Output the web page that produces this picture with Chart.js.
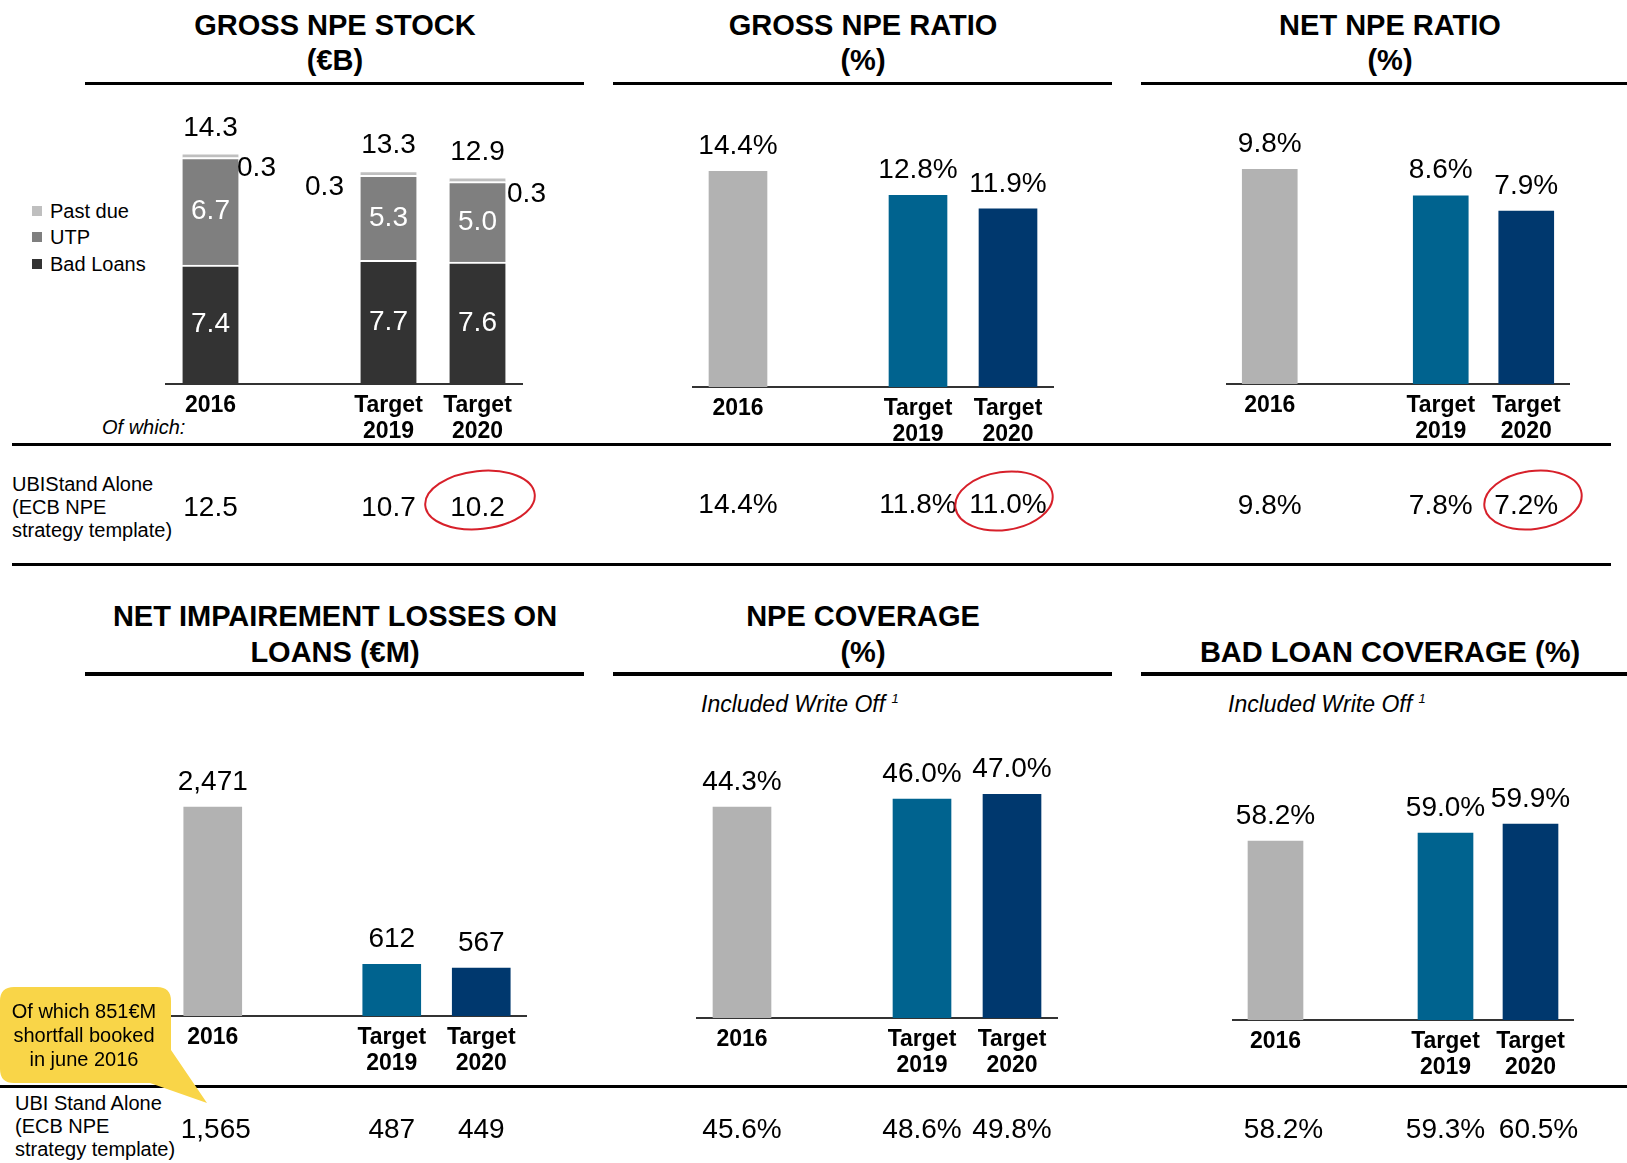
<!DOCTYPE html>
<html>
<head>
<meta charset="utf-8">
<script src="https://cdn.jsdelivr.net/npm/chart.js@4.4.1/dist/chart.umd.min.js"></script>
<style>
  body { margin: 0; background: #fff; font-family: "Liberation Sans", Arial, sans-serif; color: #000; }
  #page { position: relative; width: 1627px; height: 1163px; overflow: hidden; }
  .title { position: absolute; font-weight: bold; font-size: 29px; line-height: 35px; text-align: center; white-space: nowrap; }
  .rule { position: absolute; background: #000; }
  .txt { position: absolute; font-size: 20px; line-height: 23px; white-space: nowrap; }
  .sw { position: absolute; width: 10px; height: 10px; }
  canvas { position: absolute; }
</style>
</head>
<body>
<div id="page">
  <div class="title" style="left:85px;width:500px;top:8px;">GROSS NPE STOCK<br>(€B)</div>
  <div class="title" style="left:613px;width:500px;top:8px;">GROSS NPE RATIO<br>(%)</div>
  <div class="title" style="left:1141px;width:498px;top:8px;">NET NPE RATIO<br>(%)</div>
  <div class="title" style="left:85px;width:500px;top:598px;line-height:36px;">NET IMPAIREMENT LOSSES ON<br>LOANS (€M)</div>
  <div class="title" style="left:613px;width:500px;top:598px;line-height:36px;">NPE COVERAGE<br>(%)</div>
  <div class="title" style="left:1141px;width:498px;top:634px;line-height:36px;">BAD LOAN COVERAGE (%)</div>

  <div class="rule" style="left:85px;top:82px;width:499px;height:3px;"></div>
  <div class="rule" style="left:613px;top:82px;width:499px;height:3px;"></div>
  <div class="rule" style="left:1141px;top:82px;width:486px;height:3px;"></div>
  <div class="rule" style="left:85px;top:672px;width:499px;height:4px;"></div>
  <div class="rule" style="left:613px;top:672px;width:499px;height:4px;"></div>
  <div class="rule" style="left:1141px;top:672px;width:486px;height:4px;"></div>

  <div class="rule" style="left:12px;top:443px;width:1599px;height:3px;"></div>
  <div class="rule" style="left:12px;top:563px;width:1599px;height:3px;"></div>
  <div class="rule" style="left:0px;top:1085px;width:1627px;height:3px;"></div>

  <div class="sw" style="left:32px;top:206px;background:#BFBFBF;"></div>
  <div class="sw" style="left:32px;top:232px;background:#7F7F7F;"></div>
  <div class="sw" style="left:32px;top:259px;background:#333333;"></div>
  <div class="txt" style="left:50px;top:199.5px;">Past due</div>
  <div class="txt" style="left:50px;top:225.5px;">UTP</div>
  <div class="txt" style="left:50px;top:252.5px;">Bad Loans</div>

  <div class="txt" style="left:102px;top:415.5px;font-style:italic;">Of which:</div>
  <div class="txt" style="left:12px;top:472.5px;">UBIStand Alone<br>(ECB NPE<br>strategy template)</div>
  <div class="txt" style="left:15px;top:1091.5px;">UBI Stand Alone<br>(ECB NPE<br>strategy template)</div>

  <div class="txt" style="left:701px;top:685px;font-size:23px;line-height:28px;font-style:italic;">Included Write Off <sup style="font-size:13px;">1</sup></div>
  <div class="txt" style="left:1228px;top:685px;font-size:23px;line-height:28px;font-style:italic;">Included Write Off <sup style="font-size:13px;">1</sup></div>

  <canvas id="c1"></canvas>
  <canvas id="c2"></canvas>
  <canvas id="c3"></canvas>
  <canvas id="c4"></canvas>
  <canvas id="c5"></canvas>
  <canvas id="c6"></canvas>

  <svg style="position:absolute;left:0;top:0;z-index:5;" width="1627" height="1163">
    <path d="M14 987 H157 Q171 987 171 1001 V1050 L207 1103 L150 1083 H14 Q0 1083 0 1069 V1001 Q0 987 14 987 Z" fill="#F9D548"/>
    <ellipse cx="480" cy="500" rx="55" ry="29" transform="rotate(-6 480 500)" fill="none" stroke="#D7202A" stroke-width="2"/>
    <ellipse cx="1004" cy="501" rx="49" ry="29" transform="rotate(-8 1004 501)" fill="none" stroke="#D7202A" stroke-width="2"/>
    <ellipse cx="1533" cy="500" rx="49" ry="29" transform="rotate(-8 1533 500)" fill="none" stroke="#D7202A" stroke-width="2"/>
  </svg>
  <div class="txt" style="left:0;width:168px;top:999px;line-height:24px;text-align:center;z-index:6;">Of which 851€M<br>shortfall booked<br>in june 2016</div>
</div>

<script>
const categories = ['2016', '', ['Target', '2019'], ['Target', '2020']];

// gross NPE stock (€B), stacked
const badLoans = [7.4, null, 7.7, 7.6];
const utp = [6.7, null, 5.3, 5.0];
const pastDue = [0.3, null, 0.3, 0.3];
const grossStockTotal = [14.3, null, 13.3, 12.9];
const grossStockStandalone = [12.5, null, 10.7, 10.2];

const grossRatio = [14.4, null, 12.8, 11.9];
const grossRatioStandalone = [14.4, null, 11.8, 11.0];

const netRatio = [9.8, null, 8.6, 7.9];
const netRatioStandalone = [9.8, null, 7.8, 7.2];

const impairment = [2471, null, 612, 567];
const impairmentStandalone = [1565, null, 487, 449];

const npeCoverage = [44.3, null, 46.0, 47.0];
const npeCoverageStandalone = [45.6, null, 48.6, 49.8];

const badLoanCoverage = [58.2, null, 59.0, 59.9];
const badLoanCoverageStandalone = [58.2, null, 59.3, 60.5];

const barColors = ['#B2B2B2', null, '#00638F', '#00386E'];

Chart.defaults.font.family = '"Liberation Sans", Arial, sans-serif';

const one = v => v.toFixed(1);
const pct = v => v.toFixed(1) + '%';
const thousands = v => v.toLocaleString('en-US');

// value labels: inside segments, beside bars, above bars and the stand-alone row
const barText = {
  id: 'barText',
  afterDatasetsDraw(chart, args, opts) {
    const ctx = chart.ctx;
    ctx.save();
    ctx.font = '28px "Liberation Sans", Arial, sans-serif';
    ctx.textAlign = 'center';
    ctx.textBaseline = 'middle';
    const metas = chart.data.datasets.map((ds, di) => chart.getDatasetMeta(di));
    chart.data.datasets.forEach((ds, di) => {
      metas[di].data.forEach((bar, i) => {
        const v = ds.data[i];
        if (v === null) return;
        if (opts.inside && opts.inside.includes(di)) {
          ctx.fillStyle = '#fff';
          ctx.fillText(opts.format(v), bar.x, (bar.y + bar.base) / 2);
        }
        if (opts.side && opts.side.dataset === di) {
          ctx.fillStyle = '#000';
          ctx.fillText(opts.format(v), bar.x + opts.side.dx[i], bar.y + opts.side.dy[i]);
        }
      });
    });
    const topMeta = metas[metas.length - 1];
    ctx.fillStyle = '#000';
    opts.top.forEach((v, i) => {
      if (v === null) return;
      const bar = topMeta.data[i];
      ctx.fillText(opts.format(v), bar.x, bar.y - 25);
    });
    opts.below.forEach((v, i) => {
      if (v === null) return;
      const x = chart.scales.x.getPixelForValue(i) + (opts.belowDx ? opts.belowDx[i] : 0);
      ctx.fillText(opts.format(v), x, chart.chartArea.bottom + opts.belowDy);
    });
    ctx.restore();
  }
};

function buildChart(id, box, datasets, yMin, yMax, labelOpts) {
  const padX = 70, axisH = 70, padBottom = 72;
  const canvas = document.getElementById(id);
  canvas.width = box.right - box.left + 2 * padX;
  canvas.height = box.axisY - box.top + axisH + padBottom;
  canvas.style.left = (box.left - padX) + 'px';
  canvas.style.top = box.top + 'px';
  return new Chart(canvas, {
    type: 'bar',
    data: { labels: categories, datasets: datasets },
    options: {
      responsive: false,
      animation: false,
      layout: { padding: { left: padX, right: padX, top: 0, bottom: padBottom } },
      plugins: {
        legend: { display: false },
        tooltip: { enabled: false },
        barText: labelOpts
      },
      scales: {
        x: {
          stacked: true,
          grid: { display: false, drawTicks: false },
          border: { display: true, color: '#333', width: 2 },
          ticks: {
            color: '#000',
            padding: 9,
            maxRotation: 0,
            autoSkip: false,
            font: { size: 23, weight: 'bold', lineHeight: 1.13 }
          },
          afterFit: scale => { scale.height = axisH; }
        },
        y: { display: false, stacked: true, min: yMin, max: yMax }
      }
    },
    plugins: [barText]
  });
}

function single(values, thickness) {
  return [{ data: values, backgroundColor: barColors, borderWidth: 0, barThickness: thickness }];
}

const segBorder = { top: 2, right: 0, bottom: 0, left: 0 };

buildChart('c1', { left: 166, right: 522, axisY: 384, top: 95 }, [
  { label: 'Bad Loans', data: badLoans, backgroundColor: '#333333', borderColor: '#fff', borderWidth: segBorder, borderSkipped: false, barThickness: 56 },
  { label: 'UTP', data: utp, backgroundColor: '#7F7F7F', borderColor: '#fff', borderWidth: segBorder, borderSkipped: false, barThickness: 56 },
  { label: 'Past due', data: pastDue, backgroundColor: '#BFBFBF', borderColor: '#fff', borderWidth: segBorder, borderSkipped: false, barThickness: 56 }
], 0, 18.0, {
  format: one, inside: [0, 1],
  side: { dataset: 2, dx: [46, 0, -64, 49], dy: [15, 0, 17, 17] },
  top: grossStockTotal, below: grossStockStandalone, belowDy: 124
});

buildChart('c2', { left: 693, right: 1053, axisY: 387, top: 95 }, single(grossRatio, 58), 0, 19.5, {
  format: pct, top: grossRatio, below: grossRatioStandalone, belowDy: 118
});

buildChart('c3', { left: 1227, right: 1569, axisY: 384, top: 95 }, single(netRatio, 55), 0, 13.2, {
  format: pct, top: netRatio, below: netRatioStandalone, belowDy: 122
});

buildChart('c4', { left: 168, right: 526, axisY: 1016, top: 700 }, single(impairment, 58), 0, 3736, {
  format: thousands, top: impairment, below: impairmentStandalone, belowDy: 114, belowDx: [3, 0, 0, 0]
});

buildChart('c5', { left: 697, right: 1057, axisY: 1018, top: 700 }, single(npeCoverage, 58), 0, 66.8, {
  format: pct, top: npeCoverage, below: npeCoverageStandalone, belowDy: 112
});

buildChart('c6', { left: 1233, right: 1573, axisY: 1020, top: 700 }, single(badLoanCoverage, 55), 40.3, 72.3, {
  format: pct, top: badLoanCoverage, below: badLoanCoverageStandalone, belowDy: 110, belowDx: [8, 0, 0, 8]
});
</script>
</body>
</html>
